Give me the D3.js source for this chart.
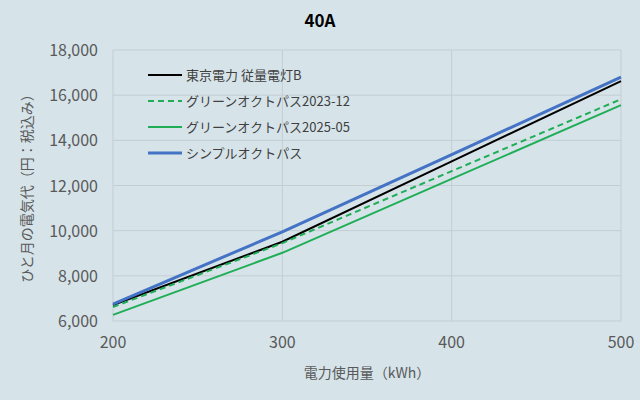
<!DOCTYPE html>
<html><head><meta charset="utf-8">
<script src="https://cdn.jsdelivr.net/npm/d3@7"></script>
<style>body{margin:0;background:#d6e4ea}text{font-family:"Noto Sans CJK JP","Noto Sans",sans-serif}</style>
</head><body><svg width="640" height="400"></svg>
<script>
const kwh = [200, 300, 400, 500];
const tepco = [6710, 9510, 13070, 16620];
const green2023 = [6620, 9450, 12635, 15820];
const green2025 = [6270, 9020, 12290, 15560];
const simple = [6750, 9950, 13370, 16800];
const yTicks = [6000, 8000, 10000, 12000, 14000, 16000, 18000];
const series = [
  {name: "東京電力 従量電灯B", v: tepco, c: "#000", w: 2, dash: null},
  {name: "グリーンオクトパス2023-12", v: green2023, c: "#1fae55", w: 2, dash: "6,4"},
  {name: "グリーンオクトパス2025-05", v: green2025, c: "#1fae55", w: 2, dash: null},
  {name: "シンプルオクトパス", v: simple, c: "#4472c4", w: 3, dash: null}
];
const svg = d3.select("svg");
const x = d3.scaleLinear().domain([200, 500]).range([113, 621]);
const y = d3.scaleLinear().domain([6000, 18000]).range([321, 50]);
svg.append("g").selectAll("line").data(yTicks).join("line")
  .attr("x1", 113).attr("x2", 621).attr("y1", d => y(d)).attr("y2", d => y(d))
  .attr("stroke", "#c4cdd1");
svg.append("g").selectAll("line").data([300, 400, 500]).join("line")
  .attr("y1", 50).attr("y2", 321).attr("x1", d => x(d)).attr("x2", d => x(d))
  .attr("stroke", "#c4cdd1");
svg.append("line").attr("x1", 113).attr("x2", 113).attr("y1", 50).attr("y2", 321).attr("stroke", "#c4cdd1");
svg.append("g").selectAll("text").data(yTicks).join("text")
  .attr("x", 98).attr("y", d => y(d) + 6).attr("text-anchor", "end")
  .attr("font-size", 16).attr("fill", "#595959").text(d3.format(","));
svg.append("g").selectAll("text").data(kwh).join("text")
  .attr("x", d => x(d)).attr("y", 348).attr("text-anchor", "middle")
  .attr("font-size", 16).attr("fill", "#595959").text(d => d);
svg.append("text").attr("x", 320).attr("y", 27).attr("text-anchor", "middle")
  .attr("font-size", 17).attr("font-weight", "bold").text("40A");
svg.append("text").attr("x", 367).attr("y", 378).attr("text-anchor", "middle")
  .attr("font-size", 14).attr("fill", "#595959").text("電力使用量（kWh）");
svg.append("text").attr("transform", "translate(32,185) rotate(-90)").attr("text-anchor", "middle")
  .attr("font-size", 14).attr("fill", "#595959").text("ひと月の電気代（円：税込み）");
const line = d3.line().x((d, i) => x(kwh[i])).y(d => y(d));
svg.append("g").selectAll("path").data(series).join("path")
  .attr("d", d => line(d.v)).attr("fill", "none").attr("stroke", d => d.c)
  .attr("stroke-width", d => d.w).attr("stroke-dasharray", d => d.dash);
const lg = svg.append("g").selectAll("g").data(series).join("g")
  .attr("transform", (d, i) => `translate(148,${75 + i * 26})`);
lg.append("line").attr("x1", 0).attr("x2", 34).attr("stroke", d => d.c)
  .attr("stroke-width", d => d.w).attr("stroke-dasharray", d => d.dash);
lg.append("text").attr("x", 38).attr("y", 5).attr("font-size", 13).attr("fill", "#404040").text(d => d.name);
</script></body></html>
